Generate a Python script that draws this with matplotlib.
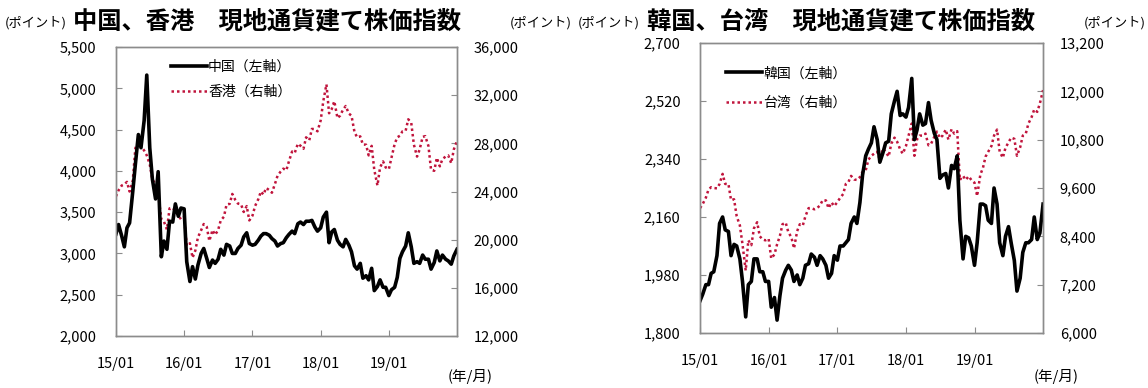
import pandas as pd
import matplotlib
matplotlib.use('Agg')
import matplotlib.pyplot as plt

plt.rcParams['font.family'] = ['Noto Sans CJK JP', 'DejaVu Sans']

# 半月ごとの日付（1日と15日）、2015/01/01〜2020/01/01
dates = pd.date_range('2015-01-01', '2020-01-01', freq='SMS')

# 上海総合（左軸）
china = [3235,
         3350, 3210, 3080, 3310, 3370, 3750, 4080, 4440, 4280, 4610, 5160, 4280,
         3900, 3660, 3990, 2960, 3150, 3050, 3390, 3380, 3600, 3450, 3550, 3540,
         2900, 2660, 2840, 2690, 2860, 3000, 3060, 2940, 2830, 2920, 2880, 2930,
         3050, 2980, 3110, 3090, 3000, 3000, 3060, 3100, 3200, 3250, 3120, 3100,
         3110, 3160, 3210, 3240, 3240, 3220, 3180, 3150, 3090, 3120, 3130, 3190,
         3230, 3270, 3240, 3360, 3380, 3350, 3390, 3390, 3400, 3320, 3270, 3310,
         3440, 3500, 3130, 3260, 3290, 3160, 3110, 3080, 3170, 3100, 3020, 2850,
         2810, 2880, 2700, 2730, 2680, 2820, 2550, 2600, 2680, 2590, 2590, 2490,
         2560, 2590, 2710, 2940, 3020, 3090, 3250, 3080, 2880, 2900, 2880, 2980,
         2930, 2930, 2810, 2890, 3030, 2910, 2980, 2930, 2910, 2870, 2970, 3050]

# ハンセン（右軸）
hongkong = [23600,
            24100, 24500, 24600, 24800, 24000, 24900, 27600, 28100, 27800, 27400, 27000, 26250,
            25000, 24600, 23800, 21700, 21500, 20850, 22600, 22640, 22400, 21990, 21700, 21900,
            19500, 19700, 18500, 19100, 20200, 20780, 21300, 21070, 19900, 20800, 20400, 20800,
            21600, 21900, 22900, 22980, 23800, 23300, 23000, 22930, 22300, 22790, 21600, 22000,
            22800, 23360, 24000, 23740, 24300, 24110, 23900, 24615, 25300, 25660, 25900, 25760,
            26500, 27320, 27200, 27970, 27800, 27550, 28500, 28250, 29200, 29180, 29000, 29900,
            31500, 32900, 30500, 30840, 31500, 30100, 30300, 30800, 31100, 30470, 30300, 28950,
            28500, 28580, 27900, 27890, 27000, 27790, 25800, 24500, 26000, 26500, 26000, 25850,
            26800, 27940, 28500, 28630, 29000, 29050, 30000, 29700, 27900, 26900, 27500, 28540,
            28600, 27780, 25800, 25720, 26800, 26090, 26700, 26900, 27000, 26350, 27500, 28190]

# KOSPI（左軸）
korea = [1900,
         1920, 1950, 1950, 1985, 1990, 2040, 2140, 2160, 2120, 2115, 2040, 2075,
         2070, 2030, 1960, 1850, 1950, 1960, 2030, 2030, 1990, 1990, 1960, 1960,
         1880, 1910, 1840, 1915, 1970, 1995, 2010, 1995, 1960, 1980, 1950, 1970,
         2010, 2015, 2045, 2035, 2010, 2040, 2030, 2010, 1970, 1985, 2040, 2026,
         2070, 2070, 2080, 2090, 2140, 2160, 2140, 2205, 2290, 2350, 2370, 2390,
         2440, 2400, 2330, 2360, 2390, 2395, 2480, 2520, 2550, 2475, 2480, 2470,
         2500, 2590, 2400, 2430, 2480, 2445, 2450, 2515, 2460, 2420, 2400, 2280,
         2290, 2295, 2250, 2320, 2310, 2350, 2150, 2030, 2100, 2095, 2070, 2010,
         2080, 2200, 2200, 2195, 2150, 2140, 2250, 2200, 2080, 2040, 2100, 2130,
         2080, 2025, 1930, 1970, 2050, 2080, 2080, 2090, 2160, 2090, 2110, 2200]

# 加権指数（右軸）
taiwan = [9100,
          9200, 9360, 9560, 9620, 9600, 9590, 9700, 9950, 9700, 9700, 9300, 9320,
          8900, 8670, 8200, 7550, 8300, 8180, 8600, 8750, 8400, 8320, 8300, 8340,
          7850, 7950, 8200, 8410, 8700, 8740, 8500, 8380, 8100, 8530, 8700, 8670,
          8900, 9100, 9100, 9070, 9100, 9170, 9300, 9290, 9100, 9240, 9150, 9250,
          9350, 9450, 9700, 9750, 9900, 9810, 9800, 9870, 10000, 10040, 10300, 10400,
          10450, 10500, 10300, 10580, 10500, 10380, 10700, 10850, 10750, 10560, 10450, 10640,
          10900, 11200, 10400, 10810, 10900, 10900, 10950, 10660, 10700, 10870, 11000, 10840,
          10900, 11050, 10800, 11060, 10950, 11010, 9800, 9900, 9800, 9890, 9800, 9730,
          9400, 9930, 10100, 10380, 10500, 10640, 10900, 11050, 10500, 10350, 10600, 10730,
          10850, 10820, 10400, 10610, 10900, 10950, 11200, 11360, 11550, 11490, 11700, 12030]

xticks = ['2015-01-01', '2016-01-01', '2017-01-01', '2018-01-01', '2019-01-01']
xlabels = ['15/01', '16/01', '17/01', '18/01', '19/01']
china_ticks = [2000, 2500, 3000, 3500, 4000, 4500, 5000, 5500]
hk_ticks = [12000, 16000, 20000, 24000, 28000, 32000, 36000]
korea_ticks = [1800, 1980, 2160, 2340, 2520, 2700]
taiwan_ticks = [6000, 7200, 8400, 9600, 10800, 12000, 13200]

RED = '#C0143C'
FRAME = '#8C8C8C'

fig = plt.figure(figsize=(11.48, 3.88), dpi=100)


def draw_panel(rect, left_vals, right_vals, left_name, right_name,
               left_ticks, right_ticks, title, title_x,
               unit_left_x, unit_right_x, legend_x, legend_y, legend_gap):
    ax1 = fig.add_axes(rect)
    ax2 = ax1.twinx()
    ax1.set_zorder(ax2.get_zorder() + 1)
    ax1.patch.set_visible(False)

    ax2.plot(dates, right_vals, color=RED, linestyle=(0, (1, 1.2)), linewidth=1.8,
             label=right_name)
    ax1.plot(dates, left_vals, color='black', linewidth=2.6, label=left_name)

    ax1.set_xlim(pd.Timestamp('2015-01-01'), pd.Timestamp('2020-01-01'))
    ax1.set_ylim(left_ticks[0], left_ticks[-1])
    ax2.set_ylim(right_ticks[0], right_ticks[-1])
    ax1.set_xticks(pd.to_datetime(xticks))
    ax1.set_xticklabels(xlabels)
    ax1.set_yticks(left_ticks)
    ax1.set_yticklabels([f'{v:,}' for v in left_ticks])
    ax2.set_yticks(right_ticks)
    ax2.set_yticklabels([f'{v:,}' for v in right_ticks])

    for ax in (ax1, ax2):
        for s in ax.spines.values():
            s.set_color(FRAME)
            s.set_linewidth(1.0)
    ax1.tick_params(axis='x', direction='in', length=4, color=FRAME, pad=15,
                    labelsize=10.5)
    ax1.tick_params(axis='y', direction='in', length=4, color=FRAME, pad=14,
                    labelsize=10.5)
    ax2.tick_params(axis='y', direction='in', length=4, color=FRAME, pad=12,
                    labelsize=10.5)

    # 凡例
    h1, l1 = ax1.get_legend_handles_labels()
    h2, l2 = ax2.get_legend_handles_labels()
    ax1.legend(h1 + h2, l1 + l2, loc='upper left',
               bbox_to_anchor=(legend_x, legend_y), frameon=False,
               fontsize=10, handlelength=2.6, handletextpad=0.1,
               labelspacing=legend_gap, borderaxespad=0, borderpad=0)

    fig.text(title_x, 0.945, title, ha='center', va='center', fontsize=17.5,
             fontweight='bold')
    x1 = rect[0] + rect[2]
    fig.text(unit_left_x, 0.94, '(ポイント)', ha='left', va='center', fontsize=9.5)
    fig.text(unit_right_x, 0.94, '(ポイント)', ha='right', va='center', fontsize=9.5)
    fig.text(x1 - 0.008, 0.03, '(年/月)', ha='left', va='center', fontsize=10.5)


draw_panel([0.1010, 0.1340, 0.2971, 0.7448], china, hongkong,
           '中国（左軸）', '香港（右軸）', china_ticks, hk_ticks,
           '中国、香港　現地通貨建て株価指数', 0.233,
           0.004, 0.498, 0.16, 0.955, 0.75)
draw_panel([0.6098, 0.1418, 0.2988, 0.7474], korea, taiwan,
           '韓国（左軸）', '台湾（右軸）', korea_ticks, taiwan_ticks,
           '韓国、台湾　現地通貨建て株価指数', 0.733,
           0.5035, 0.998, 0.075, 0.92, 1.1)

fig.savefig('out.png', dpi=100)
